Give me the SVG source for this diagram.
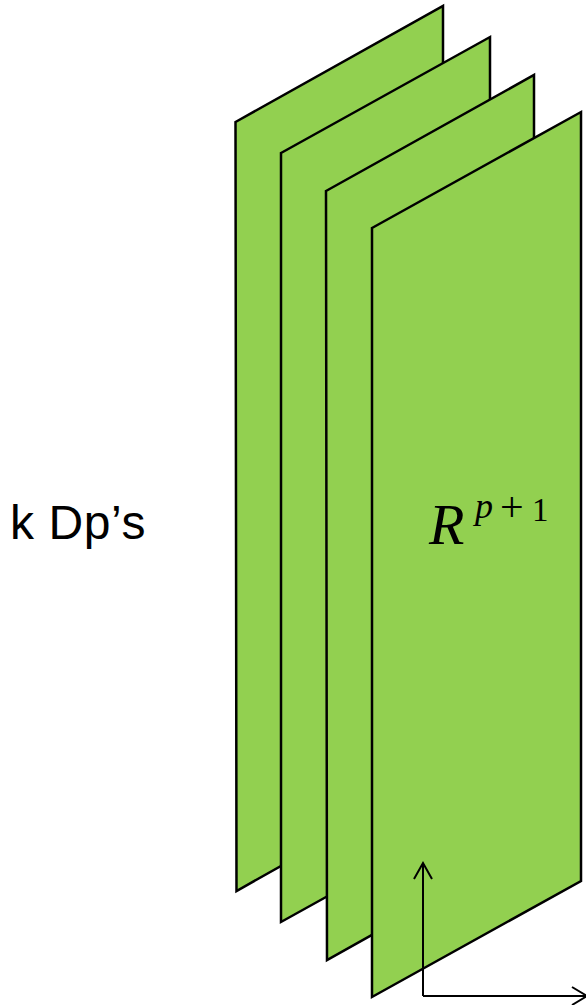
<svg xmlns="http://www.w3.org/2000/svg" width="586" height="1005" viewBox="0 0 586 1005">
<style>
.plane{fill:#92D050;stroke:#000;stroke-width:2.5;stroke-linejoin:miter}
.axis{fill:none;stroke:#000;stroke-width:2}
.lbl{font-family:"Liberation Sans","DejaVu Sans",sans-serif;font-size:48px;fill:#000}
.math{font-family:"Liberation Serif","DejaVu Serif",serif;fill:#000}
</style>
<rect width="586" height="1005" fill="#fff"/>
<g id="plane1"><polygon class="plane" points="235.5,122 443,6 443,775 236.5,891"/></g>
<g id="plane2"><polygon class="plane" points="281,153 490,37 490,806 281,922"/></g>
<g id="plane3"><polygon class="plane" points="326,191 534,75 534,844 327,960"/></g>
<g id="plane4"><polygon class="plane" points="372,228 581,112 581,881 372,997"/>
<text class="math" x="429" y="544" font-size="58" font-style="italic">R</text>
<text class="math" x="475" y="518" font-size="36" font-style="italic">p</text>
<text class="math" x="500" y="521" font-size="42">+</text>
<text class="math" x="532" y="521" font-size="33">1</text>
</g>
<g id="label"><text class="lbl" x="10" y="539" letter-spacing="0.6">k Dp’s</text></g>
<g id="connectors">
<path class="axis" d="M423,996 V864 M414,879 L423,863 L432,879"/>
<path class="axis" d="M423,996 H586 M572,987 L587,996 L572,1005"/>
</g>
</svg>
